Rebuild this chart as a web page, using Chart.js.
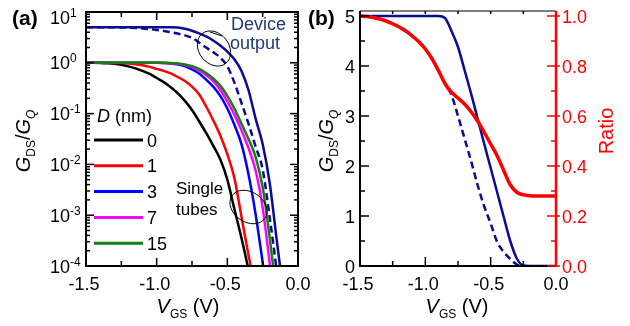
<!DOCTYPE html>
<html>
<head>
<meta charset="utf-8">
<title>GDS/GQ vs VGS</title>
<script src="https://cdn.jsdelivr.net/npm/chart.js"></script>
<style>
  body { margin: 0; background: #fff; }
  canvas { position: absolute; top: 0; }
</style>
</head>
<body>
<canvas id="chartA" width="315" height="326" style="left:0"></canvas>
<canvas id="chartB" width="330" height="326" style="left:300px"></canvas>
<script>
// gate voltage grid shared by both panels (V)
const vgs = [-1.5, -1.45, -1.4, -1.35, -1.3, -1.25, -1.2, -1.15, -1.1, -1.05, -1.0,
             -0.95, -0.9, -0.85, -0.8, -0.75, -0.7, -0.65, -0.6, -0.55, -0.5,
             -0.45, -0.4, -0.35, -0.3, -0.25, -0.2, -0.15, -0.1, -0.05, 0.0];

// panel (a): log10(GDS/GQ), null = below 1e-4
const diameters = ['0', '1', '3', '7', '15'];
const logD0  = [0, -0.001, -0.004, -0.01, -0.02, -0.04, -0.07, -0.11, -0.16, -0.22, -0.3,
                -0.38, -0.48, -0.6, -0.75, -0.93, -1.15, -1.38, -1.63, -1.9, -2.3,
                -2.88, -3.45, -4.08, -4.8, null, null, null, null, null, null];
const logD1  = [0, 0, 0, 0, -0.002, -0.006, -0.015, -0.03, -0.05, -0.08, -0.12,
                -0.16, -0.21, -0.28, -0.36, -0.47, -0.62, -0.86, -1.13, -1.43, -1.8,
                -2.27, -3.03, -3.79, -4.5, null, null, null, null, null, null];
const logD3  = [0, 0, 0, 0, 0, 0, 0, 0, 0, 0, 0,
                -0.005, -0.015, -0.035, -0.07, -0.13, -0.21, -0.33, -0.47, -0.65, -0.9,
                -1.22, -1.6, -2.2, -2.98, -3.93, -4.9, null, null, null, null];
const logD7  = [0, 0, 0, 0, 0, 0, 0, 0, 0, 0, 0,
                -0.003, -0.008, -0.02, -0.045, -0.085, -0.15, -0.24, -0.36, -0.53, -0.76,
                -1.02, -1.33, -1.68, -2.12, -2.85, -3.95, -5.2, null, null, null];
const logD15 = [0, 0, 0, 0, 0, 0, 0, 0, 0, 0, 0,
                0, -0.005, -0.015, -0.035, -0.065, -0.12, -0.2, -0.31, -0.45, -0.65,
                -0.9, -1.2, -1.5, -1.85, -2.45, -3.45, -4.6, null, null, null];
const logDevDash  = [0.699, 0.699, 0.699, 0.699, 0.699, 0.697, 0.693, 0.686, 0.676, 0.663, 0.647,
                     0.627, 0.603, 0.575, 0.54, 0.49, 0.4, 0.3, 0.21, 0.1, -0.07,
                     -0.39, -0.79, -1.2, -1.65, -2.1, -3.05, -4.1, -5.2, null, null];
const logDevSolid = [0.699, 0.699, 0.699, 0.699, 0.699, 0.699, 0.699, 0.699, 0.699, 0.699, 0.699,
                     0.699, 0.699, 0.695, 0.67, 0.63, 0.58, 0.52, 0.44, 0.34, 0.22,
                     0.07, -0.16, -0.54, -1.1, -1.6, -2.37, -3.5, -4.6, null, null];

// panel (b): linear GDS/GQ and ratio
const devSolidB = [5, 5, 5, 5, 5, 5, 5, 5, 5, 5, 5,
                   5, 5, 4.96, 4.7, 4.38, 3.92, 3.45, 2.95, 2.45, 1.96,
                   1.47, 0.98, 0.5, 0.15, 0.01, 0, 0, 0, 0, 0];
const devDashB  = [5, 4.99, 4.97, 4.94, 4.9, 4.845, 4.78, 4.7, 4.6, 4.485, 4.34,
                   4.15, 3.91, 3.65, 3.42, 3.0, 2.55, 2.1, 1.62, 1.2, 0.85,
                   0.48, 0.28, 0.14, 0.03, 0, null, null, null, null, null];
const ratioB    = [1.0, 0.998, 0.994, 0.988, 0.98, 0.969, 0.956, 0.94, 0.92, 0.897, 0.868,
                   0.83, 0.782, 0.73, 0.695, 0.672, 0.648, 0.617, 0.58, 0.535, 0.488,
                   0.44, 0.382, 0.325, 0.295, 0.285, 0.281, 0.28, 0.28, 0.28, 0.28];

// ticks
const xTickSteps = [-1.5, -1.25, -1.0, -0.75, -0.5, -0.25, 0.0];
const xTickLabels = ['-1.5', '-1.0', '-0.5', '0.0'];
const xTickValues = [-1.5, -1.0, -0.5, 0.0];
const logExponents = [-4, -3, -2, -1, 0, 1];
const leftTicksB = [0, 1, 2, 3, 4, 5];
const rightTicksB = [0, 0.2, 0.4, 0.6, 0.8, 1.0];

const NAVY = '#0b0b94';
const colorsA = ['#000000', '#ff0000', '#0000ff', '#ff00ff', '#138013'];
const FONT = '"Liberation Sans", Arial, Helvetica, sans-serif';

function pts(arr, isLog) {
  return vgs.map((v, i) => ({ x: v, y: arr[i] === null ? null : (isLog ? Math.pow(10, arr[i]) : arr[i]) }));
}

function fontOf(p) {
  return (p.i ? 'italic ' : '') + (p.b ? 'bold ' : '') + p.s + 'px ' + FONT;
}

function drawRich(ctx, parts, x, y, align) {
  let total = 0;
  const w = parts.map(p => { ctx.font = fontOf(p); const m = ctx.measureText(p.t).width; total += m; return m; });
  let cx = align === 'center' ? x - total / 2 : (align === 'right' ? x - total : x);
  ctx.textAlign = 'left';
  ctx.textBaseline = 'alphabetic';
  parts.forEach((p, k) => { ctx.font = fontOf(p); ctx.fillText(p.t, cx, y + (p.dy || 0)); cx += w[k]; });
}

function seg(ctx, x1, y1, x2, y2) {
  ctx.beginPath(); ctx.moveTo(x1, y1); ctx.lineTo(x2, y2); ctx.stroke();
}

const gTitle = [{ t: 'G', i: 1, s: 20 }, { t: 'DS', s: 12, dy: 5 }, { t: '/', s: 20 },
                { t: 'G', i: 1, s: 20 }, { t: 'Q', i: 1, s: 12, dy: 5 }];
const vTitle = [{ t: 'V', i: 1, s: 20 }, { t: 'GS', s: 12, dy: 5 }, { t: ' (V)', s: 20 }];

function isMajorX(v) { return xTickValues.some(t => Math.abs(t - v) < 1e-6); }

const panelA = {
  id: 'panelA',
  afterDraw(chart) {
    const { ctx, chartArea: a, scales: { x, y } } = chart;
    ctx.save();
    ctx.strokeStyle = '#000';
    ctx.fillStyle = '#000';
    ctx.lineWidth = 2;
    ctx.strokeRect(a.left, a.top, a.width, a.height);

    ctx.lineWidth = 1.5;
    xTickSteps.forEach(v => {
      const px = x.getPixelForValue(v);
      const len = isMajorX(v) ? 8 : 5;
      seg(ctx, px, a.bottom, px, a.bottom - len);
      seg(ctx, px, a.top, px, a.top + len);
    });
    logExponents.forEach(e => {
      const py = y.getPixelForValue(Math.pow(10, e));
      seg(ctx, a.left, py, a.left + 8, py);
      seg(ctx, a.right, py, a.right - 8, py);
      if (e < 1) {
        for (let k = 2; k <= 9; k++) {
          const pm = y.getPixelForValue(k * Math.pow(10, e));
          seg(ctx, a.left, pm, a.left + 4, pm);
          seg(ctx, a.right, pm, a.right - 4, pm);
        }
      }
    });

    // tick labels
    ctx.textAlign = 'center';
    ctx.textBaseline = 'alphabetic';
    ctx.font = '18px ' + FONT;
    xTickValues.forEach((v, k) => {
      ctx.fillText(xTickLabels[k], x.getPixelForValue(v) - (v < 0 ? 2 : 0), 290);
    });
    logExponents.forEach(e => {
      const py = y.getPixelForValue(Math.pow(10, e)) + (e === 1 ? 5 : 0);
      drawRich(ctx, [{ t: '10', s: 18 }, { t: String(e), s: 12, dy: -7 }], 50, py + 6.5, 'left');
    });

    // axis titles
    drawRich(ctx, vTitle, 188, 313, 'center');
    ctx.save();
    ctx.translate(30, 141);
    ctx.rotate(-Math.PI / 2);
    drawRich(ctx, gTitle, 0, 0, 'center');
    ctx.restore();

    // panel letter
    drawRich(ctx, [{ t: '(a)', b: 1, s: 21 }], 12, 25, 'left');

    // legend
    drawRich(ctx, [{ t: 'D', i: 1, s: 18 }, { t: ' (nm)', s: 18 }], 97, 122, 'left');
    ctx.lineWidth = 3;
    diameters.forEach((d, k) => {
      const ry = 140 + k * 25.8;
      ctx.strokeStyle = colorsA[k];
      seg(ctx, 94, ry, 143, ry);
      ctx.fillStyle = '#000';
      drawRich(ctx, [{ t: d, s: 18 }], 147, ry + 6.5, 'left');
    });

    // annotations
    ctx.strokeStyle = '#000';
    ctx.lineWidth = 1;
    ctx.beginPath();
    ctx.ellipse(214, 48.5, 19, 15, 0.9, 0, 2 * Math.PI);
    ctx.stroke();
    seg(ctx, 210, 32, 222, 36);
    ctx.beginPath();
    ctx.ellipse(248.5, 207, 20, 15, 0.6, 0, 2 * Math.PI);
    ctx.stroke();

    ctx.fillStyle = '#22397a';
    drawRich(ctx, [{ t: 'Device', s: 18 }], 231, 30, 'left');
    drawRich(ctx, [{ t: 'output', s: 18 }], 230, 49, 'left');
    ctx.fillStyle = '#000';
    drawRich(ctx, [{ t: 'Single', s: 17 }], 176, 194, 'left');
    drawRich(ctx, [{ t: 'tubes', s: 17 }], 176, 215, 'left');
    ctx.restore();
  }
};

const panelB = {
  id: 'panelB',
  afterDraw(chart) {
    const { ctx, chartArea: a, scales: { x, y, y1 } } = chart;
    ctx.save();
    ctx.strokeStyle = '#000';
    ctx.fillStyle = '#000';
    ctx.lineWidth = 1;
    seg(ctx, a.left, a.top, a.right, a.top);
    ctx.lineWidth = 2;
    seg(ctx, a.left, a.top, a.left, a.bottom + 1);
    seg(ctx, a.left - 1, a.bottom, a.right, a.bottom);

    ctx.lineWidth = 1.5;
    xTickSteps.forEach(v => {
      const px = x.getPixelForValue(v);
      seg(ctx, px, a.bottom, px, a.bottom - (isMajorX(v) ? 9 : 5));
      seg(ctx, px, a.top, px, a.top + 3);
    });
    for (let k = 0; k <= 10; k++) {
      const py = y.getPixelForValue(k * 0.5);
      seg(ctx, a.left, py, a.left + (k % 2 === 0 ? 9 : 5), py);
    }

    ctx.font = '18px ' + FONT;
    ctx.textAlign = 'center';
    ctx.textBaseline = 'alphabetic';
    xTickValues.forEach((v, k) => {
      ctx.fillText(xTickLabels[k], x.getPixelForValue(v) - (v < 0 ? 2 : 0), 290);
    });
    ctx.textAlign = 'right';
    leftTicksB.forEach(v => ctx.fillText(String(v), 55, y.getPixelForValue(v) + 6.5));

    drawRich(ctx, vTitle, 157, 313, 'center');
    ctx.save();
    ctx.translate(33, 141);
    ctx.rotate(-Math.PI / 2);
    drawRich(ctx, gTitle, 0, 0, 'center');
    ctx.restore();

    drawRich(ctx, [{ t: '(b)', b: 1, s: 21 }], 8, 25, 'left');

    // right ratio axis in red
    ctx.strokeStyle = '#ff0000';
    ctx.fillStyle = '#ff0000';
    ctx.lineWidth = 2.5;
    seg(ctx, a.right, a.top, a.right, a.bottom + 1);
    ctx.lineWidth = 1.5;
    for (let k = 0; k <= 10; k++) {
      const py = y1.getPixelForValue(k * 0.1);
      if (k % 2 === 0) seg(ctx, a.right - 9, py, a.right + 4, py);
      else seg(ctx, a.right - 5, py, a.right, py);
    }
    ctx.font = '18px ' + FONT;
    ctx.textAlign = 'left';
    rightTicksB.forEach(v => ctx.fillText(v.toFixed(1), 262, y1.getPixelForValue(v) + 6.5));
    ctx.save();
    ctx.translate(313, 131);
    ctx.rotate(-Math.PI / 2);
    drawRich(ctx, [{ t: 'Ratio', s: 20 }], 0, 0, 'center');
    ctx.restore();
    ctx.restore();
  }
};

function lineSet(data, color, opts) {
  return Object.assign({
    data: data, borderColor: color, borderWidth: 2.5, pointRadius: 0,
    cubicInterpolationMode: 'monotone', fill: false
  }, opts || {});
}

new Chart(document.getElementById('chartA'), {
  type: 'line',
  data: {
    datasets: [
      lineSet(pts(logD15, true), colorsA[4]),
      lineSet(pts(logD7, true), colorsA[3]),
      lineSet(pts(logD3, true), colorsA[2]),
      lineSet(pts(logD1, true), colorsA[1]),
      lineSet(pts(logD0, true), colorsA[0]),
      lineSet(pts(logDevSolid, true), NAVY),
      lineSet(pts(logDevDash, true), NAVY, { borderDash: [7, 4] })
    ]
  },
  options: {
    responsive: false,
    animation: false,
    devicePixelRatio: 1,
    layout: { padding: { left: 86, right: 17, top: 12, bottom: 60 } },
    plugins: { legend: { display: false }, tooltip: { enabled: false } },
    scales: {
      x: { type: 'linear', min: -1.5, max: 0, display: false },
      y: { type: 'logarithmic', min: 1e-4, max: 10, display: false }
    }
  },
  plugins: [panelA]
});

new Chart(document.getElementById('chartB'), {
  type: 'line',
  data: {
    datasets: [
      lineSet(pts(ratioB, false), '#ff0000', { yAxisID: 'y1', borderWidth: 3.5 }),
      lineSet(pts(devSolidB, false), NAVY),
      lineSet(pts(devDashB, false), NAVY, { borderDash: [7, 4] })
    ]
  },
  options: {
    responsive: false,
    animation: false,
    devicePixelRatio: 1,
    layout: { padding: { left: 60, right: 74, top: 11, bottom: 60 } },
    plugins: { legend: { display: false }, tooltip: { enabled: false } },
    scales: {
      x: { type: 'linear', min: -1.5, max: 0, display: false },
      y: { type: 'linear', min: 0, max: 5.1, display: false },
      y1: { type: 'linear', position: 'right', min: 0, max: 1.02, display: false }
    }
  },
  plugins: [panelB]
});
</script>
</body>
</html>
